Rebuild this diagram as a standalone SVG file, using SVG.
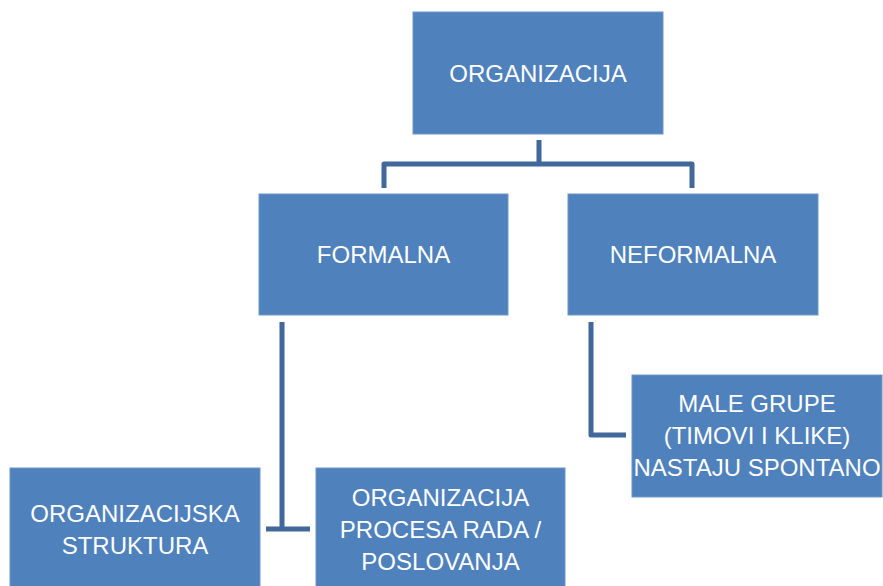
<svg xmlns="http://www.w3.org/2000/svg" width="883" height="586" viewBox="0 0 883 586">
<style>
.box{fill:#4F81BD;stroke:#6E97C8;stroke-width:1}
.lbl{font-family:"Liberation Sans",Arial,sans-serif;font-size:24px;fill:#ffffff;text-anchor:middle}
.con{fill:none;stroke:#41679B;stroke-width:5;stroke-linejoin:round}
</style>
<rect width="883" height="586" fill="#ffffff"/>
<g id="connectors">
<path class="con" d="M539,140 V164 M384,188 V164 H692 V188"/>
<path class="con" d="M282,322 V529 M266,529 H310"/>
<path class="con" d="M591,322 V435 H626"/>
</g>
<g id="organizacija">
<rect class="box" x="413" y="12" width="250" height="122"/>
<text class="lbl" x="538" y="82">ORGANIZACIJA</text>
</g>
<g id="formalna">
<rect class="box" x="259" y="194" width="249" height="121"/>
<text class="lbl" x="383.5" y="263">FORMALNA</text>
</g>
<g id="neformalna">
<rect class="box" x="568" y="194" width="250" height="121"/>
<text class="lbl" x="693" y="263">NEFORMALNA</text>
</g>
<g id="male-grupe">
<rect class="box" x="632" y="375" width="250" height="122"/>
<text class="lbl" x="757" y="412">MALE GRUPE</text>
<text class="lbl" x="757" y="444">(TIMOVI I KLIKE)</text>
<text class="lbl" x="757" y="476">NASTAJU SPONTANO</text>
</g>
<g id="organizacijska-struktura">
<rect class="box" x="10" y="468" width="250" height="122"/>
<text class="lbl" x="135" y="522">ORGANIZACIJSKA</text>
<text class="lbl" x="135" y="554">STRUKTURA</text>
</g>
<g id="organizacija-procesa">
<rect class="box" x="316" y="468" width="249" height="122"/>
<text class="lbl" x="440.5" y="506">ORGANIZACIJA</text>
<text class="lbl" x="440.5" y="538">PROCESA RADA /</text>
<text class="lbl" x="440.5" y="570">POSLOVANJA</text>
</g>
</svg>
